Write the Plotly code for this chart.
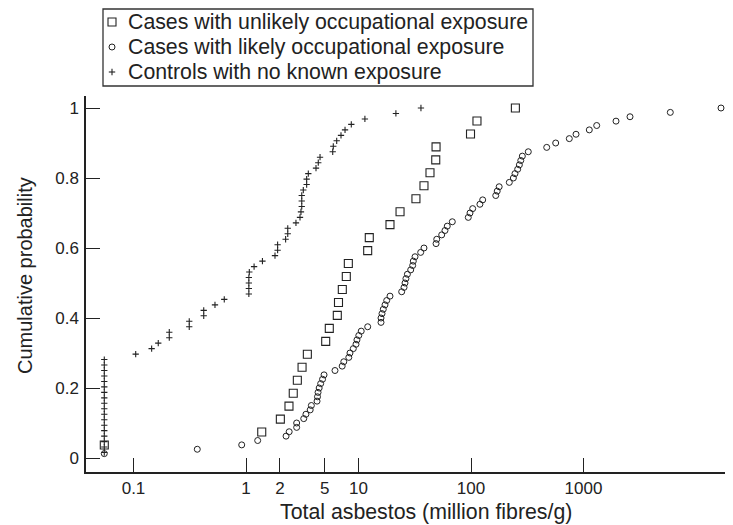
import numpy as np
import plotly.graph_objects as go

# ---- data (million fibres/g) ----
unlikely_exposure = [0.055, 1.38, 2.02, 2.41, 2.63, 2.86, 3.15, 3.51, 5.11, 5.50,
                     6.48, 6.64, 7.18, 7.79, 8.12, 12.07, 12.47, 19.05, 23.4, 32.4,
                     38.2, 43.2, 48.6, 48.9, 99.0, 113, 248]

likely_exposure = [0.055, 0.369, 0.916, 1.27, 2.27, 2.42, 2.82, 2.82, 3.26, 3.41,
                   3.72, 3.81, 4.28, 4.32, 4.37, 4.47, 4.61, 4.79, 4.94, 6.18,
                   7.16, 7.40, 8.20, 8.40, 8.99, 9.50, 9.69, 10.06, 10.57, 12.07,
                   15.85, 15.85, 16.18, 16.61, 17.20, 17.81, 19.05, 24.2, 25.4, 25.9,
                   26.4, 27.2, 29.1, 30.3, 30.7, 31.8, 35.7, 38.2, 48.9, 49.6,
                   54.9, 58.7, 61.5, 68.2, 94.6, 98.0, 103.5, 120, 127, 166,
                   171, 178, 219, 238, 246, 260, 269, 277, 286, 323,
                   471, 566, 748, 858, 1126, 1310, 1945, 2590, 5910, 16680]

controls_no_exposure = [0.055] * 18 + [
    0.1046, 0.145, 0.166, 0.208, 0.208, 0.313, 0.313, 0.421, 0.421, 0.530,
    0.641, 1.06, 1.06, 1.06, 1.06, 1.07, 1.18, 1.40, 1.81, 1.91,
    1.91, 2.25, 2.35, 2.35, 2.78, 3.02, 3.08, 3.13, 3.13, 3.13,
    3.23, 3.46, 3.46, 3.58, 4.19, 4.39, 4.55, 5.90, 5.97, 6.40,
    6.99, 7.59, 8.63, 11.4, 21.5, 35.9]

series_names = ["Cases with unlikely occupational exposure",
                "Cases with likely occupational exposure",
                "Controls with no known exposure"]

x_tick_vals = [0.1, 1, 2, 5, 10, 100, 1000]
x_tick_text = ["0.1", "1", "2", "5", "10", "100", "1000"]
y_tick_vals = [0, 0.2, 0.4, 0.6, 0.8, 1.0]
y_tick_text = ["0", "0.2", "0.4", "0.6", "0.8", "1"]


def ecdf(values):
    v = np.sort(np.asarray(values, dtype=float))
    n = len(v)
    return v, np.arange(1, n + 1) / n


# page is drawn with an 8px body margin; work in page pixels, convert below
OFF = 8
W, H = 733 - OFF, 525 - OFF
PL, PR, PT, PB = 86, 731, 96, 472   # plot area in page pixels
FONT = "Liberation Sans, Arial, Helvetica, sans-serif"
INK = "#222222"


def xp(px):
    return (px - PL) / (PR - PL)


def yp(py):
    return (PB - py) / (PB - PT)


fig = go.Figure()

styles = [
    dict(symbol="square-open", size=8, line=dict(width=1.1, color=INK), color=INK),
    dict(symbol="circle-open", size=6, line=dict(width=1.0, color=INK), color=INK),
    dict(symbol="cross-thin-open", size=4.5, line=dict(width=1.1, color=INK), color=INK),
]
for vals, name, st in zip([unlikely_exposure, likely_exposure, controls_no_exposure],
                          series_names, styles):
    xs, ys = ecdf(vals)
    fig.add_trace(go.Scatter(x=xs, y=ys, mode="markers", name=name,
                             marker=st, showlegend=False))

# axis ranges (log10 units) chosen so that 1 sits at x=246 px, 112.5 px per decade
X_ONE, DECADE = 246.0, 112.5
x_left = (PL - X_ONE) / DECADE
x_right = (PR - X_ONE) / DECADE
Y_ZERO, Y_UNIT = 458.0, 350.0
y_low = -(PB - Y_ZERO) / Y_UNIT
y_high = (Y_ZERO - PT) / Y_UNIT

fig.update_layout(
    width=W, height=H,
    margin=dict(l=PL - OFF, r=W - (PR - OFF), t=PT - OFF, b=H - (PB - OFF)),
    paper_bgcolor="white", plot_bgcolor="white",
    font=dict(family=FONT, color=INK, size=17),
    xaxis=dict(type="log", range=[x_left, x_right], tickvals=x_tick_vals,
               ticktext=x_tick_text, ticks="inside", ticklen=14, tickwidth=1.2,
               tickcolor=INK, showline=True, linecolor=INK, linewidth=1.5,
               showgrid=False, zeroline=False, tickfont=dict(size=17),
               ticklabelstandoff=0),
    yaxis=dict(range=[y_low, y_high], tickvals=y_tick_vals, ticktext=y_tick_text,
               ticks="inside", ticklen=14, tickwidth=1.2, tickcolor=INK,
               showline=True, linecolor=INK, linewidth=1.5, showgrid=False,
               zeroline=False, tickfont=dict(size=17), ticklabelstandoff=2),
    showlegend=False,
)

# axis titles
fig.add_annotation(text="Total asbestos (million fibres/g)", xref="paper", yref="paper",
                   x=xp(426), y=yp(512), showarrow=False, xanchor="center",
                   yanchor="middle", font=dict(size=21.3, family=FONT, color=INK))
fig.add_annotation(text="Cumulative probability", xref="paper", yref="paper",
                   x=xp(25), y=yp(276), showarrow=False, textangle=-90,
                   xanchor="center", yanchor="middle",
                   font=dict(size=20, family=FONT, color=INK))

# legend box, keys and labels
fig.add_shape(type="rect", xref="paper", yref="paper", x0=xp(103), x1=xp(533),
              y0=yp(86), y1=yp(9), line=dict(color="#333333", width=1.3),
              fillcolor="white", layer="above")
key_y = [22, 47, 72]
fig.add_shape(type="rect", xref="paper", yref="paper", x0=xp(108), x1=xp(116),
              y0=yp(key_y[0] + 4), y1=yp(key_y[0] - 4),
              line=dict(color=INK, width=1.1), layer="above")
fig.add_shape(type="circle", xref="paper", yref="paper", x0=xp(109), x1=xp(115),
              y0=yp(key_y[1] + 3), y1=yp(key_y[1] - 3),
              line=dict(color=INK, width=1.0), layer="above")
fig.add_shape(type="line", xref="paper", yref="paper", x0=xp(108.8), x1=xp(115.2),
              y0=yp(key_y[2]), y1=yp(key_y[2]), line=dict(color=INK, width=1.1),
              layer="above")
fig.add_shape(type="line", xref="paper", yref="paper", x0=xp(112), x1=xp(112),
              y0=yp(key_y[2] + 3.2), y1=yp(key_y[2] - 3.2),
              line=dict(color=INK, width=1.1), layer="above")
for name, ky in zip(series_names, key_y):
    fig.add_annotation(text=name, xref="paper", yref="paper", x=xp(126), y=yp(ky),
                       showarrow=False, xanchor="left", yanchor="middle",
                       font=dict(size=21.3, family=FONT, color=INK))

fig.write_html("out.html")
